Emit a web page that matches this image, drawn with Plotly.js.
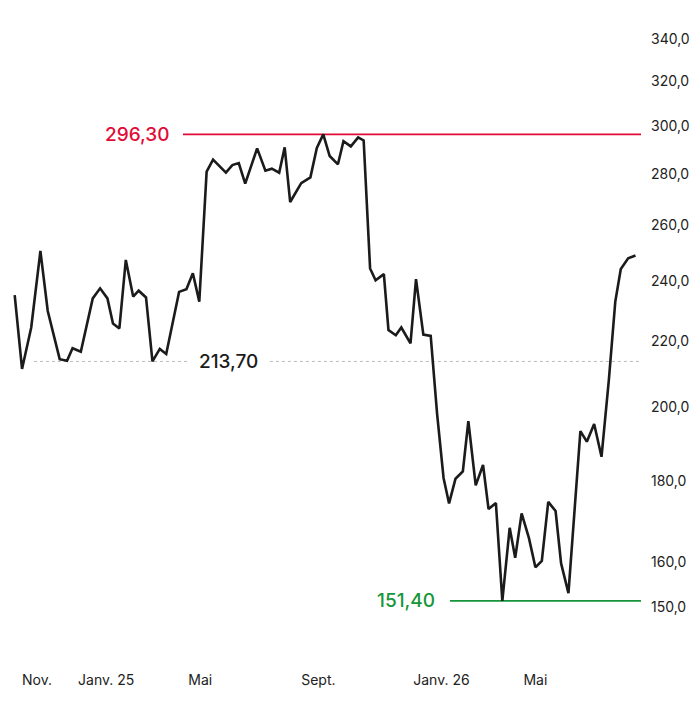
<!DOCTYPE html>
<html>
<head>
<meta charset="utf-8">
<script src="https://cdn.plot.ly/plotly-3.0.1.min.js"></script>
<style>
  html, body { margin: 0; padding: 0; background: #fff; }
  #chart { width: 700px; height: 705px; }
</style>
</head>
<body>
<div id="chart"></div>
<script>
// weekly closes
const dates = [
  '2024-10-24','2024-11-01','2024-11-11','2024-11-21','2024-11-29','2024-12-05','2024-12-12','2024-12-20','2024-12-26',
  '2025-01-04','2025-01-17','2025-01-25','2025-02-02','2025-02-08','2025-02-15','2025-02-22','2025-03-02','2025-03-08',
  '2025-03-16','2025-03-23','2025-03-31','2025-04-07','2025-04-21','2025-04-29','2025-05-06','2025-05-13','2025-05-21',
  '2025-05-28','2025-06-11','2025-06-18','2025-06-25','2025-07-02','2025-07-15','2025-07-24','2025-07-31','2025-08-08',
  '2025-08-14','2025-08-20','2025-09-01','2025-09-11','2025-09-18','2025-09-25','2025-10-02','2025-10-11','2025-10-17',
  '2025-10-25','2025-11-02','2025-11-08','2025-11-15','2025-11-21','2025-11-30','2025-12-05','2025-12-13','2025-12-19',
  '2025-12-29','2026-01-04','2026-01-12','2026-01-20','2026-01-27','2026-02-03','2026-02-09','2026-02-16','2026-02-24',
  '2026-03-02','2026-03-10','2026-03-18','2026-03-24','2026-04-01','2026-04-08','2026-04-16','2026-04-22','2026-04-29',
  '2026-05-07','2026-05-14','2026-05-21','2026-05-28','2026-06-05','2026-06-11','2026-06-19','2026-07-02','2026-07-09',
  '2026-07-17','2026-07-25','2026-08-02','2026-08-09','2026-08-15','2026-08-23','2026-08-31'
];
const prices = [
  235.1, 211.4, 224.4, 250.5, 229.8, 222.5, 214.4, 213.9, 217.8,
  216.7, 234.0, 237.4, 234.0, 225.7, 224.1, 247.3, 234.6, 236.6,
  234.3, 213.7, 217.6, 216.0, 236.2, 237.1, 242.6, 232.9, 280.8,
  285.7, 280.4, 283.5, 284.3, 276.0, 290.4, 281.2, 282.0, 280.4,
  290.8, 268.8, 276.2, 278.5, 290.6, 296.3, 287.2, 283.8, 293.4,
  291.2, 295.0, 293.7, 244.3, 240.2, 242.3, 223.6, 221.9, 224.4,
  219.3, 240.6, 222.1, 221.7, 198.1, 180.7, 174.2, 180.5, 182.4,
  196.1, 178.8, 184.1, 172.8, 174.3, 151.4, 168.2, 161.1, 171.7,
  165.7, 158.9, 160.4, 174.6, 172.3, 159.8, 153.1, 193.3, 190.4,
  195.3, 186.3, 208.1, 232.9, 244.1, 247.9, 248.9
];

const highLevel = 296.30
const refLevel = 213.70
const lowLevel = 151.40

const tickDates = ['2024-11-01', '2025-01-01', '2025-05-01', '2025-09-01', '2026-01-01', '2026-05-01']
const tickNames = ['Nov.', 'Janv. 25', 'Mai', 'Sept.', 'Janv. 26', 'Mai']
const yTicks = [150, 160, 180, 200, 220, 240, 260, 280, 300, 320, 340]

const red = '#e20a36'
const green = '#16963a'
const fmt = v => v.toFixed(2).replace('.', ',')

let trace = {
    type: 'scatter',
    mode: 'lines',
    x: dates,
    y: prices,
    line: { color: '#1b1b1b', width: 2.6 },
    hoverinfo: 'skip'
}

let hline = (y, x0, x1, color, dash, width) => ({
    type: 'line', xref: 'paper', yref: 'y',
    x0: x0, x1: x1, y0: y, y1: y,
    line: { color: color, width: width, dash: dash },
    layer: 'below'
})

let layout = {
    width: 700,
    height: 705,
    margin: { l: 0, r: 59, t: 20, b: 65 },
    paper_bgcolor: '#fff',
    plot_bgcolor: '#fff',
    separators: ', ',
    showlegend: false,
    font: { family: 'Inter, "Open Sans", sans-serif', color: '#222', size: 14 },
    xaxis: {
        type: 'date',
        range: ['2024-10-08', '2026-09-06'],
        tickvals: tickDates,
        ticktext: tickNames,
        ticklabelposition: 'outside right',
        ticklabelstandoff: 30,
        showgrid: false, zeroline: false, showline: false, ticks: '',
        tickfont: { size: 14, color: '#222' }
    },
    yaxis: {
        type: 'log',
        side: 'right',
        range: [2.1557, 2.5432],
        tickvals: yTicks,
        tickformat: '.1f',
        ticklabelstandoff: 9,
        showgrid: false, zeroline: false, showline: false, ticks: '',
        tickfont: { size: 14, color: '#222' }
    },
    shapes: [
        hline(highLevel, 0.2855, 1, red, 'solid', 1.6),
        hline(refLevel, 0.053, 0.293, '#bbbbbb', 'dot', 1),
        hline(refLevel, 0.421, 1, '#bbbbbb', 'dot', 1),
        hline(lowLevel, 0.702, 1, green, 'solid', 1.6)
    ],
    annotations: [
        { text: fmt(highLevel), xref: 'paper', yref: 'y', x: 0.2683, y: Math.log10(highLevel),
          xanchor: 'right', yanchor: 'middle', showarrow: false, font: { size: 19, color: red, weight: 500 } },
        { text: fmt(refLevel), xref: 'paper', yref: 'y', x: 0.3565, y: Math.log10(refLevel),
          xanchor: 'center', yanchor: 'middle', showarrow: false, font: { size: 19, color: '#1b1b1b', weight: 500 } },
        { text: fmt(lowLevel), xref: 'paper', yref: 'y', x: 0.6818, y: Math.log10(lowLevel),
          xanchor: 'right', yanchor: 'middle', showarrow: false, font: { size: 19, color: green, weight: 500 } }
    ]
}

Plotly.newPlot('chart', [trace], layout, { displayModeBar: false, staticPlot: true })
</script>
</body>
</html>
